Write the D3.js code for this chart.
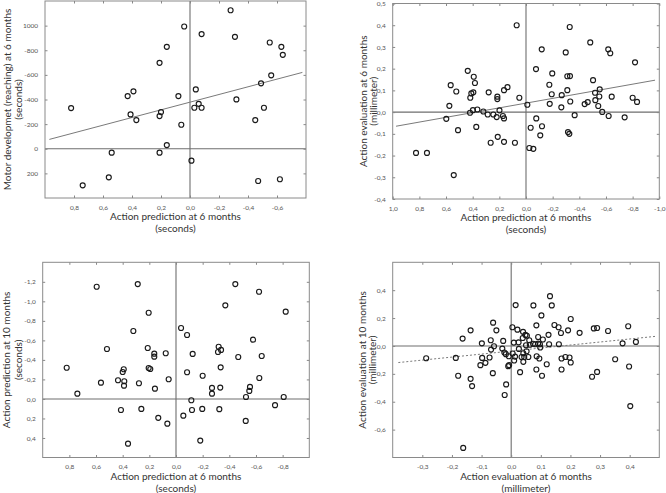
<!DOCTYPE html>
<html><head><meta charset="utf-8">
<script src="https://cdn.jsdelivr.net/npm/d3@7/dist/d3.min.js"></script>
<style>
html,body{margin:0;padding:0;background:#fff;}
svg{display:block;font-family:Lato,"Open Sans",sans-serif;}
</style></head>
<body>
<svg id="chart" width="666" height="493"></svg>
<script>
// ---------- DATA ----------
// Panel 1: Action prediction at 6 months (s) vs Motor development (reaching) at 6 months (s)
const p1X = [0.82,0.74,0.56,0.54,0.43,0.39,0.41,0.37,0.21,0.16,0.21,0.20,0.16,0.21,-0.28,0.04,-0.08,-0.31,-0.55,-0.63,-0.64,-0.56,-0.49,-0.04,0.08,-0.06,-0.03,-0.08,-0.32,-0.51,-0.45,0.06,-0.01,-0.47,-0.62];
const p1Y = [-330,297,232,32,-428,-466,-279,-233,-698,-828,-265,-298,-30,32,-1125,-993,-931,-909,-863,-828,-763,-596,-531,-482,-428,-365,-333,-333,-401,-333,-233,-195,97,262,248];
const p1LineX = [0.97,-0.775];
const p1LineY = [-76,-620];
const p1XTicks = [0.8,0.6,0.4,0.2,0.0,-0.2,-0.4,-0.6];
const p1XLabels = ["0,8","0,6","0,4","0,2","0,0","-0,2","-0,4","-0,6"];
const p1YTicks = [-1000,-800,-600,-400,-200,0,200];
const p1YLabels = ["1000","-800","-600","-400","-200","0","200"];

// Panel 2: Action prediction at 6 months (s) vs Action evaluation at 6 months (mm)
const p2X = [0.825,0.743,0.542,0.598,0.575,0.565,0.523,0.510,0.437,0.392,0.383,0.418,0.410,0.395,0.420,0.398,0.365,0.373,0.320,0.280,0.287,0.265,0.215,0.215,0.212,0.245,0.220,0.173,0.165,0.199,0.165,0.139,0.165,0.070,0.050,-0.010,0.083,-0.025,-0.055,-0.077,-0.035,-0.120,-0.107,-0.118,-0.075,-0.197,-0.175,-0.193,-0.178,-0.268,-0.265,-0.298,-0.328,-0.310,-0.330,-0.310,-0.332,-0.315,-0.325,-0.365,-0.440,-0.463,-0.482,-0.503,-0.518,-0.520,-0.553,-0.550,-0.542,-0.572,-0.617,-0.632,-0.643,-0.620,-0.740,-0.818,-0.800,-0.833];
const p2Y = [-0.188,-0.188,-0.290,-0.031,0.029,0.124,0.095,-0.083,0.190,0.163,0.134,0.066,0.086,0.091,-0.003,0.009,0.012,-0.068,0.003,0.091,-0.011,-0.141,0.060,0.071,-0.114,-0.011,-0.023,-0.018,-0.029,0.008,0.101,0.115,-0.137,0.400,0.066,0.034,-0.141,-0.165,-0.169,-0.029,-0.072,-0.065,-0.107,0.289,0.198,0.178,0.126,0.082,0.038,0.078,0.022,0.275,0.392,0.165,0.166,0.101,0.049,-0.092,-0.100,-0.014,0.037,0.046,0.321,0.147,0.089,0.055,0.105,0.072,0.028,0.001,0.289,0.271,0.071,-0.018,-0.024,0.229,0.066,0.047];
const p2LineX = [0.975,-0.968];
const p2LineY = [-0.065,0.147];
const p2XTicks = [1.0,0.8,0.6,0.4,0.2,0.0,-0.2,-0.4,-0.6,-0.8,-1.0];
const p2XLabels = ["1,0","0,8","0,6","0,4","0,2","0,0","-0,2","-0,4","-0,6","-0,8","-1,0"];
const p2YTicks = [0.5,0.4,0.3,0.2,0.1,0.0,-0.1,-0.2,-0.3,-0.4];
const p2YLabels = ["0,5","0,4","0,3","0,2","0,1","0,0","-0,1","-0,2","-0,3","-0,4"];

// Panel 3: Action prediction at 6 months (s) vs Action prediction at 10 months (s)
const p3X = [0.82,0.74,0.563,0.595,0.518,0.435,0.400,0.392,0.388,0.390,0.413,0.360,0.320,0.287,0.278,0.260,0.205,0.212,0.205,0.193,0.163,0.163,0.158,0.133,0.077,0.065,0.055,-0.038,-0.083,-0.125,-0.083,-0.115,-0.120,-0.055,-0.197,-0.200,-0.182,-0.270,-0.270,-0.325,-0.320,-0.338,-0.315,-0.335,-0.332,-0.370,-0.445,-0.467,-0.578,-0.623,-0.643,-0.625,-0.555,-0.550,-0.525,-0.523,-0.743,-0.808,-0.823];
const p3Y = [-0.32,-0.054,-0.167,-1.149,-0.512,-0.191,-0.276,-0.304,-0.181,-0.136,0.113,0.458,-0.696,-1.177,-0.161,0.102,-0.883,-0.522,-0.317,-0.307,-0.464,-0.433,-0.105,0.194,-0.468,0.253,-0.202,-0.727,-0.655,-0.461,-0.273,0.013,0.113,0.171,0.102,-0.238,0.427,-0.113,-0.054,0.105,-0.535,-0.502,-0.481,-0.324,-0.116,-0.959,-1.177,-0.430,-0.607,-1.098,-0.440,-0.215,-0.123,-0.082,-0.020,0.225,0.064,-0.020,-0.894];
const p3XTicks = [0.8,0.6,0.4,0.2,0.0,-0.2,-0.4,-0.6,-0.8];
const p3XLabels = ["0,8","0,6","0,4","0,2","0,0","-0,2","-0,4","-0,6","-0,8"];
const p3YTicks = [-1.2,-1.0,-0.8,-0.6,-0.4,-0.2,0.0,0.2,0.4];
const p3YLabels = ["-1,2","-1,0","-0,8","-0,6","-0,4","-0,2","0,0","0,2","0,4"];

// Panel 4: Action evaluation at 6 months (mm) vs Action evaluation at 10 months (mm)
const p4X = [-0.287,-0.187,-0.179,-0.164,-0.137,-0.137,-0.132,-0.162,-0.099,-0.104,-0.098,-0.087,-0.073,-0.069,-0.061,-0.050,-0.068,-0.058,-0.062,-0.027,-0.030,-0.023,-0.018,-0.008,-0.010,-0.017,-0.022,0.015,0.075,0.131,0.137,0.102,0.201,0.004,0.021,0.040,0.048,0.053,0.085,0.146,0.160,0.192,0.168,0.126,0.231,0.009,0.025,0.039,0.050,0.061,0.063,0.074,0.081,0.091,0.097,0.128,0.161,0.091,0.107,0.026,0.005,0.013,0.041,0.035,0.044,0.058,0.052,-0.007,0.010,0.041,0.086,0.095,0.120,0.170,0.183,0.197,0.201,0.030,0.085,0.104,0.170,0.279,0.290,0.273,0.290,0.327,0.351,0.376,0.395,0.421,0.398,0.402,0.098];
const p4Y = [-0.088,-0.086,-0.214,0.053,0.112,-0.236,-0.288,-0.731,0.019,-0.138,-0.086,-0.121,-0.083,0.041,0.167,0.112,-0.026,-0.002,-0.195,0.036,-0.019,-0.047,-0.059,-0.074,-0.145,-0.276,-0.352,0.293,0.291,0.357,0.291,0.219,0.193,0.134,0.117,0.101,0.079,0.073,0.148,0.150,0.134,0.112,0.093,0.080,0.094,0.024,0.026,0.057,0.005,0.041,0.009,0.016,0.012,0.017,0.012,0.012,0.012,0.064,0.046,-0.021,-0.054,-0.076,-0.052,-0.079,-0.079,-0.079,-0.038,-0.138,-0.104,-0.114,-0.074,-0.090,-0.131,-0.090,-0.079,-0.083,-0.119,-0.188,-0.169,-0.214,-0.169,0.126,0.129,-0.221,-0.186,0.107,-0.095,0.019,0.141,0.029,-0.147,-0.431,-0.011];
const p4LineX = [-0.381,0.488];
const p4LineY = [-0.119,0.069];
const p4XTicks = [-0.3,-0.2,-0.1,0.0,0.1,0.2,0.3,0.4];
const p4XLabels = ["-0,3","-0,2","-0,1","0,0","0,1","0,2","0,3","0,4"];
const p4YTicks = [0.4,0.2,0.0,-0.2,-0.4,-0.6];
const p4YLabels = ["0,4","0,2","0,0","-0,2","-0,4","-0,6"];

// ---------- LAYOUT ----------
const panels = [
  {x:p1X,y:p1Y,lx:p1LineX,ly:p1LineY,dash:null,
   xt:p1XTicks,xl:p1XLabels,yt:p1YTicks,yl:p1YLabels,
   xDom:[1.0,-0.8],yDom:[400,-1200],
   L:45,R:306,T:1,B:198,
   xTitle:["Action prediction at 6 months","(seconds)"],
   yTitle:["Motor developmet (reaching) at 6 months","(seconds)"],
   yTx:[7,18]},
  {x:p2X,y:p2Y,lx:p2LineX,ly:p2LineY,dash:null,
   xt:p2XTicks,xl:p2XLabels,yt:p2YTicks,yl:p2YLabels,
   xDom:[1.0,-1.0],yDom:[-0.4,0.5],
   L:392.7,R:659.3,T:3.5,B:199,
   xTitle:["Action prediction at 6 months","(seconds)"],
   yTitle:["Action evaluation at 6 months","(millimeter)"],
   yTx:[363,373]},
  {x:p3X,y:p3Y,lx:null,ly:null,dash:null,
   xt:p3XTicks,xl:p3XLabels,yt:p3YTicks,yl:p3YLabels,
   xDom:[1.0,-1.0],yDom:[0.6,-1.4],
   L:42.7,R:309.3,T:262.3,B:457.5,
   xTitle:["Action prediction at 6 months","(seconds)"],
   yTitle:["Action prediction at 10 months","(seconds)"],
   yTx:[6,18]},
  {x:p4X,y:p4Y,lx:p4LineX,ly:p4LineY,dash:"2,2",
   xt:p4XTicks,xl:p4XLabels,yt:p4YTicks,yl:p4YLabels,
   xDom:[-0.4,0.5],yDom:[-0.8,0.6],
   L:392.7,R:659.3,T:262.3,B:457.5,
   xTitle:["Action evaluation at 6 months","(millimeter)"],
   yTitle:["Action evaluation at 10 months","(millimeter)"],
   yTx:[362,372]}
];

const svg = d3.select("#chart");

panels.forEach(p => {
  const xs = d3.scaleLinear().domain(p.xDom).range([p.L,p.R]);
  const ys = d3.scaleLinear().domain(p.yDom).range([p.B,p.T]);
  const g = svg.append("g");

  // zero lines
  g.append("line").attr("x1",p.L).attr("x2",p.R).attr("y1",ys(0)).attr("y2",ys(0))
    .attr("stroke","#6e6e6e").attr("stroke-width",1.1);
  g.append("line").attr("x1",xs(0)).attr("x2",xs(0)).attr("y1",p.T).attr("y2",p.B)
    .attr("stroke","#6e6e6e").attr("stroke-width",1.1);

  // axes (ticks inward)
  const fmtX = (d,i) => p.xl[i];
  const fmtY = (d,i) => p.yl[i];
  const ax = g.append("g").attr("transform",`translate(0,${p.B})`)
    .call(d3.axisBottom(xs).tickValues(p.xt).tickFormat(fmtX).tickSizeInner(-2.5).tickSizeOuter(0).tickPadding(7));
  const ay = g.append("g").attr("transform",`translate(${p.L},0)`)
    .call(d3.axisLeft(ys).tickValues(p.yt).tickFormat(fmtY).tickSizeInner(-2.5).tickSizeOuter(0).tickPadding(7));
  const at = g.append("g").attr("transform",`translate(0,${p.T})`)
    .call(d3.axisTop(xs).tickValues(p.xt).tickFormat("").tickSizeInner(-2.5).tickSizeOuter(0));
  const ar = g.append("g").attr("transform",`translate(${p.R},0)`)
    .call(d3.axisRight(ys).tickValues(p.yt).tickFormat("").tickSizeInner(-2.5).tickSizeOuter(0));
  [ax,ay,at,ar].forEach(a => {
    a.select(".domain").remove();
    a.selectAll(".tick line").attr("stroke","#888");
    a.selectAll(".tick text").attr("fill","#555").style("font-size","6.5px").style("font-family","Lato, sans-serif");
  });

  // frame
  g.append("rect").attr("x",p.L).attr("y",p.T).attr("width",p.R-p.L).attr("height",p.B-p.T)
    .attr("fill","none").attr("stroke","#8a8a8a").attr("stroke-width",1);

  // regression line
  if (p.lx) {
    g.append("line").attr("x1",xs(p.lx[0])).attr("y1",ys(p.ly[0]))
      .attr("x2",xs(p.lx[1])).attr("y2",ys(p.ly[1]))
      .attr("stroke","#7a7a7a").attr("stroke-width",1)
      .attr("stroke-dasharray",p.dash);
  }

  // points
  g.selectAll("circle.pt").data(d3.range(p.x.length)).enter().append("circle")
    .attr("class","pt")
    .attr("cx",i=>xs(p.x[i])).attr("cy",i=>ys(p.y[i])).attr("r",2.5)
    .attr("fill","none").attr("stroke","#1a1a1a").attr("stroke-width",1.15);

  // x title
  const cx = (p.L+p.R)/2;
  g.append("text").attr("x",cx).attr("y",p.B+22).attr("text-anchor","middle")
    .attr("fill","#333").style("font-size","10px").text(p.xTitle[0]);
  g.append("text").attr("x",cx).attr("y",p.B+34).attr("text-anchor","middle")
    .attr("fill","#333").style("font-size","10px").text(p.xTitle[1]);
  // y title
  const cy = (p.T+p.B)/2;
  p.yTitle.forEach((t,k) => {
    g.append("text").attr("transform",`translate(${p.yTx[k]},${cy}) rotate(-90)`)
      .attr("text-anchor","middle").attr("dominant-baseline","central")
      .attr("fill","#333").style("font-size","10px").text(t);
  });
});
</script>
</body></html>
